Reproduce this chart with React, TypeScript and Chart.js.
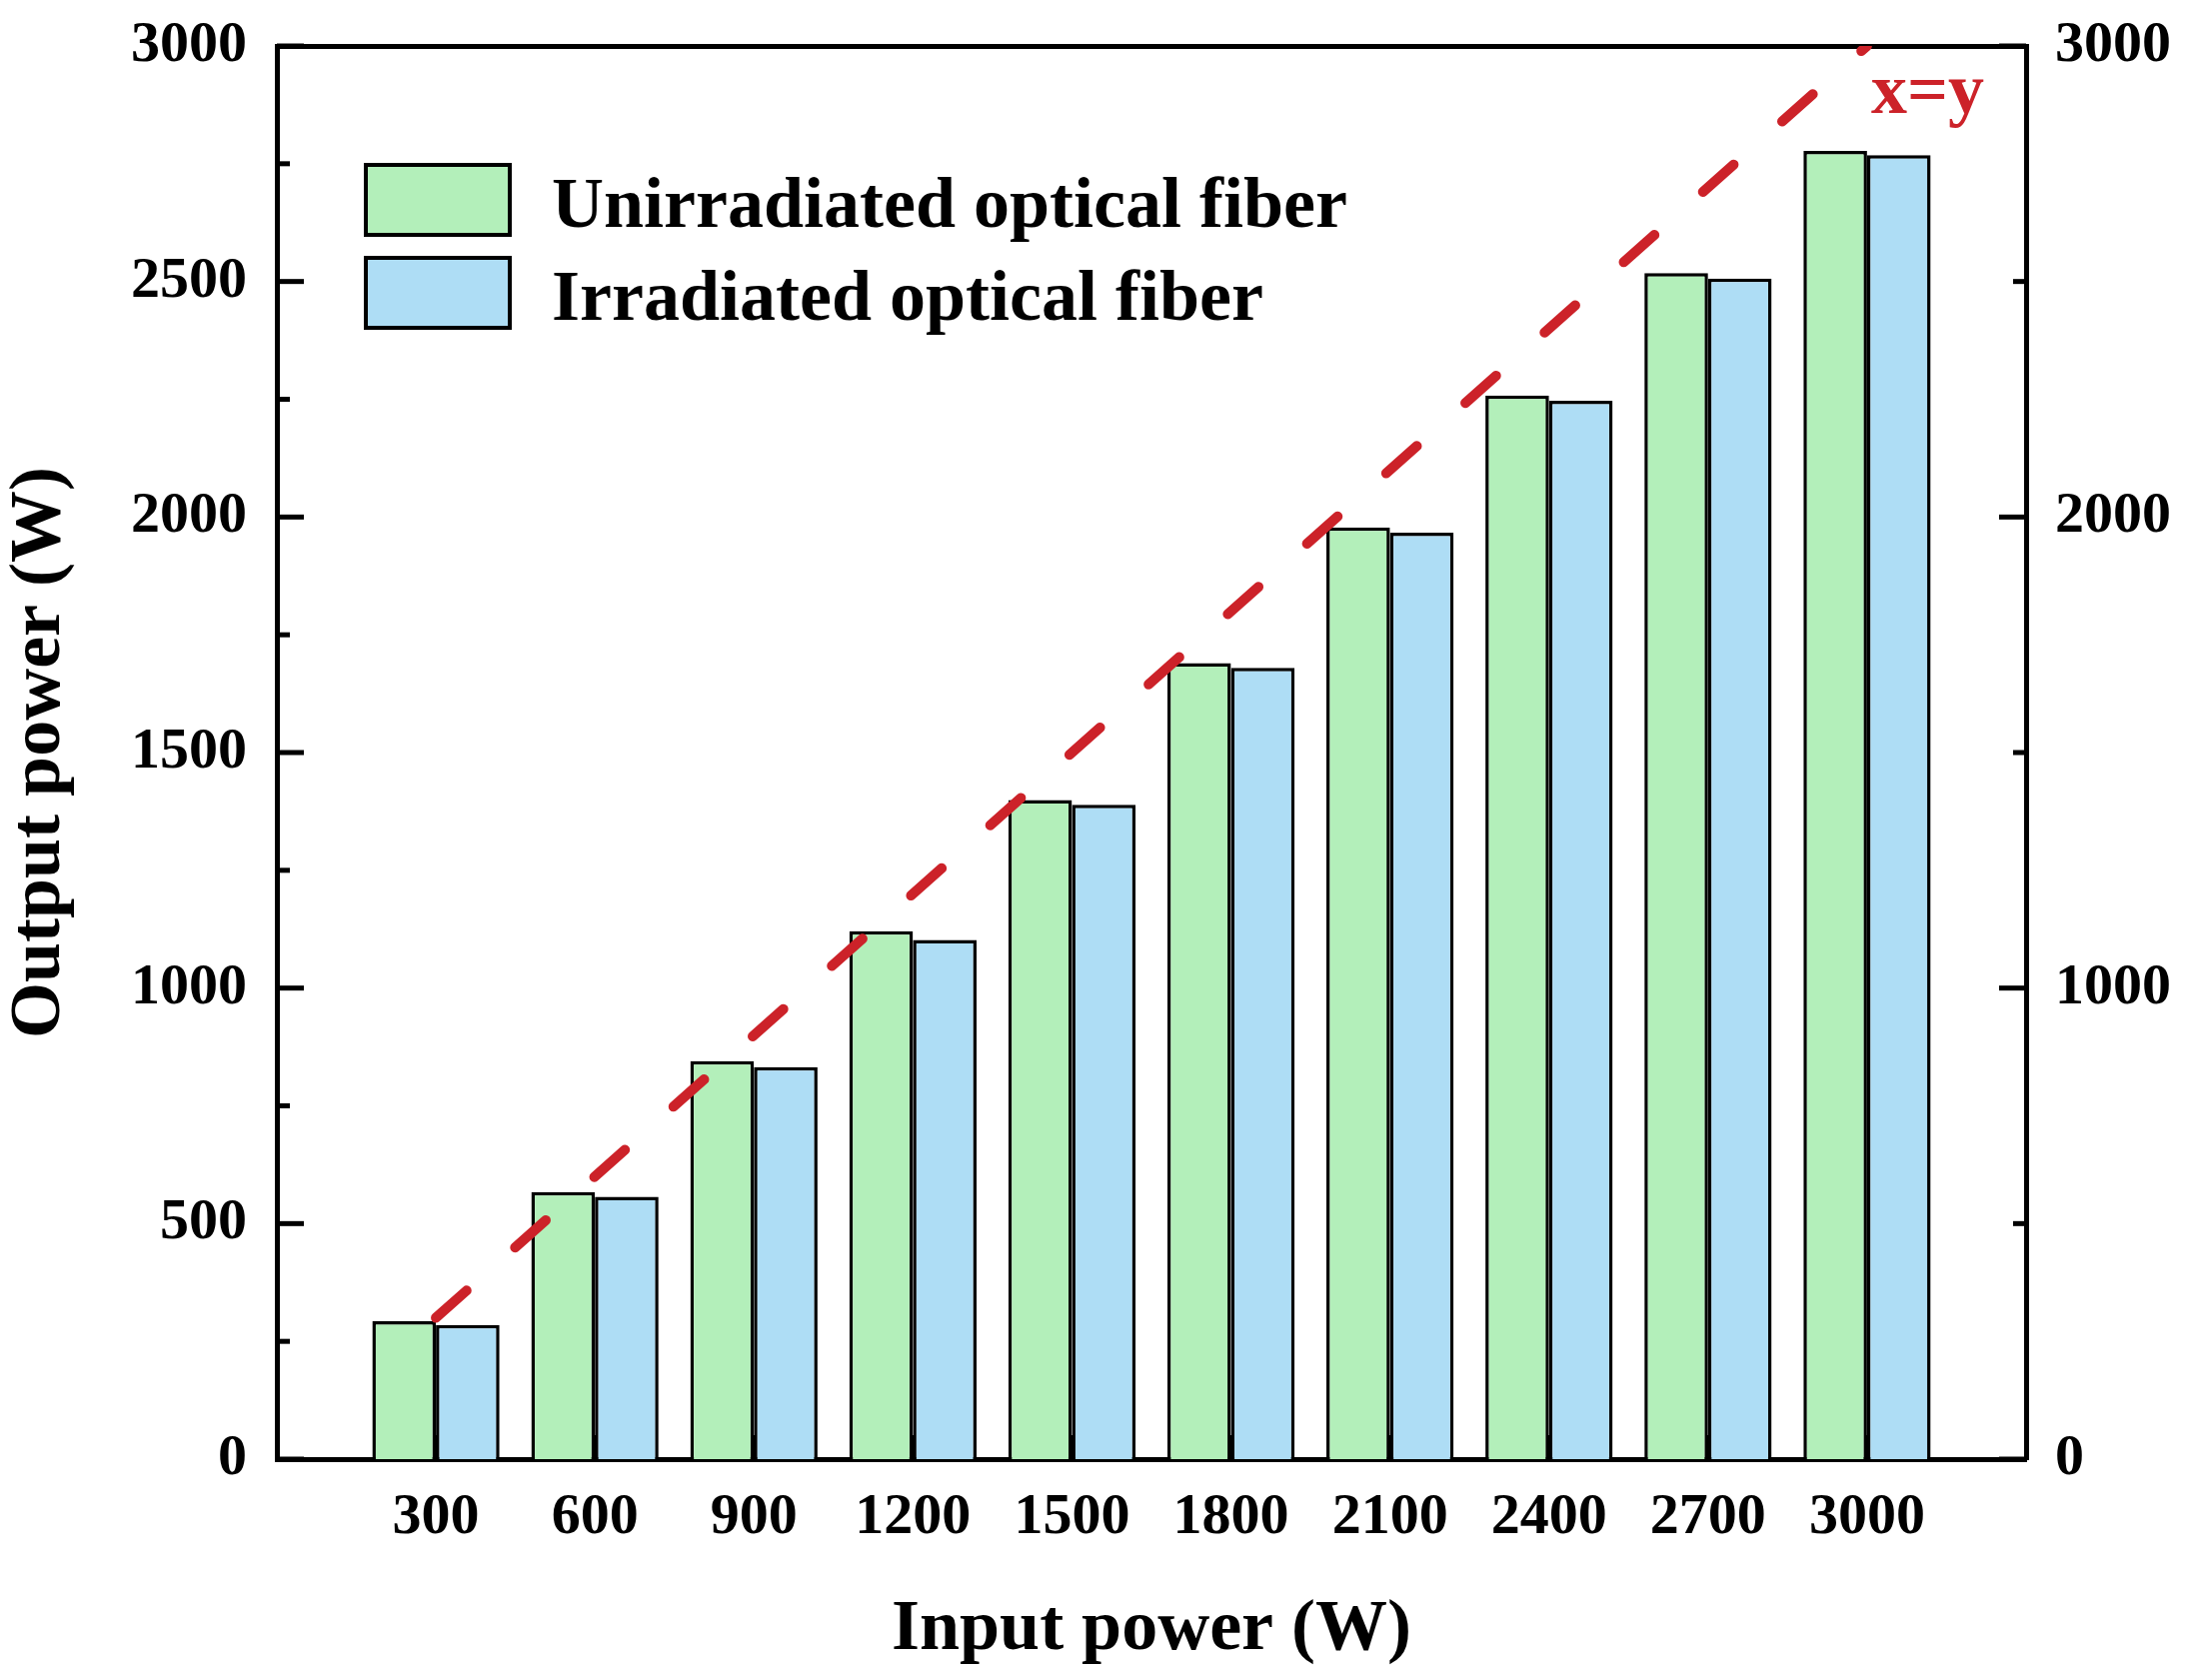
import { useEffect, useRef } from 'react'
import Chart from 'chart.js/auto'

// input power (W) -> output power (W)
const inputPower = [300, 600, 900, 1200, 1500, 1800, 2100, 2400, 2700, 3000]
const unirradiated = [293, 567, 845, 1121, 1399, 1690, 1978, 2258, 2518, 2777]
const irradiated = [285, 557, 832, 1102, 1389, 1680, 1967, 2247, 2506, 2768]

// x = y reference line end points
const refLineX = [300, 3000]
const refLineY = [300, 3000]

const seriesLabels = ['Unirradiated optical fiber', 'Irradiated optical fiber']
const seriesColors = ['#b3efba', '#aeddf5']
const lineColor = '#cc2229'

const FONT = '"Liberation Serif", "Times New Roman", serif'

const decorPlugin = {
  id: 'decor',
  afterDatasetsDraw(chart: any) {
    const { ctx, chartArea: a, scales } = chart
    const ys = scales.y
    const xs = scales.x
    const seg = (x1: number, y1: number, x2: number, y2: number) => {
      ctx.beginPath()
      ctx.moveTo(x1, y1)
      ctx.lineTo(x2, y2)
      ctx.stroke()
    }
    ctx.save()
    ctx.strokeStyle = '#000'
    ctx.lineWidth = 5
    ctx.lineCap = 'butt'
    // inward ticks, left: major 500 / minor 250, right: major 1000 / minor 500
    for (let v = 0; v <= 3000; v += 250) {
      const py = ys.getPixelForValue(v)
      seg(a.left, py, a.left + (v % 500 === 0 ? 27 : 13), py)
      if (v % 500 === 0) seg(a.right, py, a.right - (v % 1000 === 0 ? 27 : 13), py)
    }
    for (const c of inputPower) {
      const px = xs.getPixelForValue(c)
      seg(px, a.bottom, px, a.bottom - 24)
    }

    // legend inside plot
    const ds = chart.data.datasets.filter((d: any) => d.type !== 'line')
    ds.forEach((d: any, i: number) => {
      const bx = a.left + 89
      const by = a.top + 119 + i * 93
      ctx.fillStyle = d.backgroundColor
      ctx.fillRect(bx, by, 144, 70)
      ctx.lineWidth = 4
      ctx.strokeStyle = '#000'
      ctx.strokeRect(bx, by, 144, 70)
      ctx.fillStyle = '#000'
      ctx.font = `bold 72px ${FONT}`
      ctx.textBaseline = 'alphabetic'
      ctx.textAlign = 'left'
      ctx.fillText(d.label, a.left + 275, by + 62)
    })

    // x=y label
    ctx.fillStyle = lineColor
    ctx.font = `bold 72px ${FONT}`
    ctx.textAlign = 'left'
    ctx.textBaseline = 'alphabetic'
    ctx.fillText('x=y', xs.getPixelForValue(3000) + 4, a.top + 67)
    ctx.restore()
  },
}

const noPadY = (w: number) => (s: any) => {
  s.width = w
  s.paddingTop = 0
  s.paddingBottom = 0
}

export default function App() {
  const canvasRef = useRef<HTMLCanvasElement>(null)

  useEffect(() => {
    document.body.style.margin = '0'
    document.body.style.overflow = 'hidden'
    if (!canvasRef.current) return
    const tickFont = { family: FONT, size: 58, weight: 'bold' as const }
    const titleFont = { family: FONT, size: 72, weight: 'bold' as const, lineHeight: 1 }
    const plain = (v: any) => String(v)

    const chart = new Chart(canvasRef.current, {
      type: 'bar',
      data: {
        datasets: [
          {
            type: 'line' as const,
            label: 'x=y',
            data: refLineX.map((x, i) => ({ x, y: refLineY[i] })),
            borderColor: lineColor,
            borderWidth: 10,
            borderDash: [41, 65],
            borderCapStyle: 'round',
            pointRadius: 0,
            fill: false,
            order: 0,
            xAxisID: 'x',
            yAxisID: 'y',
          } as any,
          {
            label: seriesLabels[0],
            data: inputPower.map((x, i) => ({ x, y: unirradiated[i] })),
            backgroundColor: seriesColors[0],
            borderColor: '#000',
            borderWidth: 3.5,
            order: 1,
          },
          {
            label: seriesLabels[1],
            data: inputPower.map((x, i) => ({ x, y: irradiated[i] })),
            backgroundColor: seriesColors[1],
            borderColor: '#000',
            borderWidth: 3.5,
            order: 1,
          },
        ],
      },
      options: {
        responsive: false,
        animation: false,
        devicePixelRatio: 1,
        layout: { padding: { top: 46, left: 0, right: 0, bottom: 0 } },
        datasets: { bar: { categoryPercentage: 0.8, barPercentage: 1 } },
        plugins: { legend: { display: false }, tooltip: { enabled: false } },
        scales: {
          x: {
            type: 'linear',
            position: 'bottom',
            offset: false,
            min: 0,
            max: 3300,
            afterBuildTicks: (s: any) => {
              s.ticks = inputPower.map((v) => ({ value: v }))
            },
            afterFit: (s: any) => {
              s.height = 221
              s.paddingLeft = 0
              s.paddingRight = 0
            },
            ticks: {
              autoSkip: false,
              maxRotation: 0,
              padding: 24,
              color: '#000',
              font: tickFont,
              callback: plain,
            },
            grid: { display: false, drawTicks: false },
            border: { display: true, width: 5, color: '#000' },
            title: {
              display: true,
              text: 'Input power (W)',
              color: '#000',
              font: titleFont,
              padding: { top: 0, bottom: 14 },
            },
          },
          x2: {
            type: 'linear',
            position: 'top',
            offset: false,
            min: 0,
            max: 3300,
            afterFit: (s: any) => {
              s.height = 0
              s.paddingLeft = 0
              s.paddingRight = 0
            },
            ticks: { display: false },
            grid: { display: false, drawTicks: false },
            border: { display: true, width: 5, color: '#000' },
          },
          y: {
            type: 'linear',
            position: 'left',
            min: 0,
            max: 3000,
            afterFit: noPadY(277),
            ticks: { stepSize: 500, padding: 30, color: '#000', font: tickFont, callback: plain },
            grid: { display: false, drawTicks: false },
            border: { display: true, width: 5, color: '#000' },
            title: {
              display: true,
              text: 'Output power (W)',
              color: '#000',
              font: titleFont,
              padding: { top: 4, bottom: 0 },
            },
          },
          y2: {
            type: 'linear',
            position: 'right',
            min: 0,
            max: 3000,
            afterFit: noPadY(163),
            ticks: { stepSize: 1000, padding: 29, color: '#000', font: tickFont, callback: plain },
            grid: { display: false, drawTicks: false },
            border: { display: true, width: 5, color: '#000' },
          },
        },
      } as any,
      plugins: [decorPlugin],
    })

    return () => chart.destroy()
  }, [])

  return (
    <div style={{ width: 2190, height: 1681, background: '#fff' }}>
      <canvas ref={canvasRef} width={2190} height={1681} style={{ display: 'block' }} />
    </div>
  )
}
